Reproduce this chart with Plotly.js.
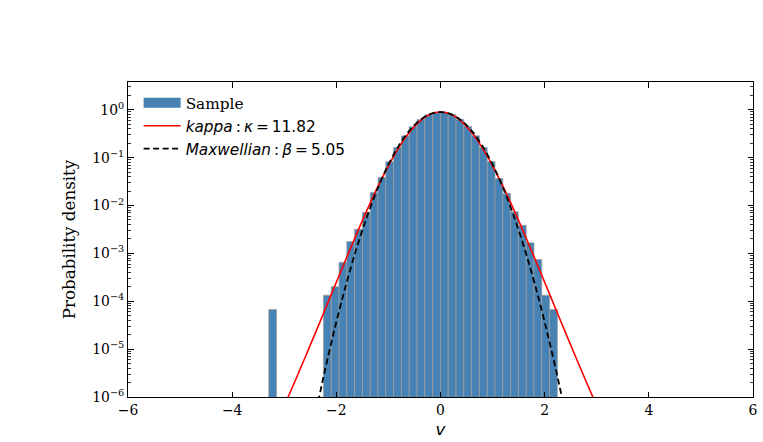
<!DOCTYPE html>
<html>
<head>
<meta charset="utf-8">
<script src="https://cdn.plot.ly/plotly-3.0.1.min.js"></script>
<style>html,body{margin:0;padding:0;background:#fff;}#chart{width:763px;height:442px;}</style>
</head>
<body>
<div id="chart"></div>
<script>
// Histogram of the sample (bin centres and probability density)
const binCenters = [-3.222,
  -2.173, -2.023, -1.873, -1.724, -1.574, -1.424, -1.274, -1.125, -0.975, -0.825,
  -0.675, -0.526, -0.376, -0.226, -0.076, 0.073, 0.223, 0.373, 0.522, 0.672,
  0.822, 0.972, 1.121, 1.271, 1.421, 1.571, 1.720, 1.870, 2.020, 2.170];
const sampleDensity = [6.7e-5,
  1.34e-4, 2.0e-4, 6.5e-4, 1.77e-3, 3.2e-3, 7.15e-3, 0.0188, 0.0386, 0.0825, 0.162,
  0.284, 0.444, 0.625, 0.785, 0.880, 0.882, 0.788, 0.628, 0.449, 0.287,
  0.164, 0.0835, 0.0368, 0.0179, 7.37e-3, 3.88e-3, 1.66e-3, 7.45e-4, 1.34e-4, 6.7e-5];
const binWidth = 0.1498;

// Fitted kappa curve
const kappaV = [-3.2, -3.0, -2.8, -2.6, -2.4, -2.2, -2.0, -1.8, -1.6, -1.4, -1.2, -1.0, -0.8, -0.6, -0.4, -0.2,
  0, 0.2, 0.4, 0.6, 0.8, 1.0, 1.2, 1.4, 1.6, 1.8, 2.0, 2.2, 2.4, 2.6, 2.8, 3.0, 3.2];
const kappaPdf = [2.10e-7, 6.50e-7, 2.06e-6, 6.70e-6, 2.213e-5, 7.41e-5, 2.489e-4, 8.31e-4, 2.712e-3, 8.51e-3, 0.02509, 0.06763, 0.1619, 0.3334, 0.5734, 0.8029,
  0.9, 0.8029, 0.5734, 0.3334, 0.1619, 0.06763, 0.02509, 8.51e-3, 2.712e-3, 8.31e-4, 2.489e-4, 7.41e-5, 2.213e-5, 6.70e-6, 2.06e-6, 6.50e-7, 2.10e-7];

// Fitted Maxwellian curve
const maxwV = [-2.6, -2.4, -2.2, -2.0, -1.8, -1.6, -1.4, -1.2, -1.0, -0.8, -0.6, -0.4, -0.2,
  0, 0.2, 0.4, 0.6, 0.8, 1.0, 1.2, 1.4, 1.6, 1.8, 2.0, 2.2, 2.4, 2.6];
const maxwPdf = [3.47e-8, 4.34e-7, 4.422e-6, 3.684e-5, 2.508e-4, 1.397e-3, 6.354e-3, 0.02363, 0.07177, 0.1781, 0.3612, 0.5985, 0.8103,
  0.8965, 0.8103, 0.5985, 0.3612, 0.1781, 0.07177, 0.02363, 6.354e-3, 1.397e-3, 2.508e-4, 3.684e-5, 4.422e-6, 4.34e-7, 3.47e-8];

// Tick labels
const xTicks = [-6, -4, -2, 0, 2, 4, 6];
const yTickVals = [1e-6, 1e-5, 1e-4, 1e-3, 1e-2, 1e-1, 1];
const yTickText = ['10<sup>\u22126</sup>', '10<sup>\u22125</sup>', '10<sup>\u22124</sup>', '10<sup>\u22123</sup>',
  '10<sup>\u22122</sup>', '10<sup>\u22121</sup>', '10<sup>0</sup>'];

const minorVals = [];
for (let e = -6; e <= 0; e++) for (let m = 2; m <= 9; m++) minorVals.push(m * Math.pow(10, e));

const serif = 'DejaVu Serif';
const sans = 'DejaVu Sans';
const ts = '\u2009';

const traces = [
  {
    type: 'bar', x: binCenters, y: sampleDensity, width: binWidth,
    marker: {color: '#4682b4', line: {color: '#a39e9a', width: 0.7}},
    showlegend: false, hoverinfo: 'skip'
  },
  {
    type: 'scatter', mode: 'lines', x: kappaV, y: kappaPdf,
    line: {color: '#ff0000', width: 1.6, shape: 'spline', smoothing: 1},
    name: '<i>kappa</i>' + ts + ':' + ts + '<i>\u03ba</i>' + ts + '=' + ts + '11.82', legendrank: 2, legendgroup: 'b'
  },
  {
    type: 'scatter', mode: 'lines', x: maxwV, y: maxwPdf,
    line: {color: '#000000', width: 1.8, dash: '6px,3.5px', shape: 'spline', smoothing: 1},
    name: '<i>Maxwellian</i>' + ts + ':' + ts + '<i>\u03b2</i>' + ts + '=' + ts + '5.05', legendrank: 3, legendgroup: 'c'
  },
  {
    type: 'scatter', mode: 'lines', x: [null], y: [null],
    line: {color: '#4682b4', width: 12},
    name: '<span style="font-family:\'DejaVu Serif\'">Sample</span>', legendrank: 1, legendgroup: 'a'
  }
];

const layout = {
  width: 763, height: 442,
  margin: {l: 128, r: 9.5, t: 82, b: 45.3, pad: 0},
  paper_bgcolor: '#ffffff', plot_bgcolor: '#ffffff',
  showlegend: true,
  bargap: 0,
  legend: {
    x: 0.017, y: 0.986, xanchor: 'left', yanchor: 'top',
    bgcolor: 'rgba(0,0,0,0)', borderwidth: 0,
    font: {family: sans, size: 15.3, color: '#000'},
    itemwidth: 37,
    tracegroupgap: 7.5, traceorder: 'normal'
  },
  xaxis: {
    range: [-6, 6], tickvals: xTicks,
    ticks: 'inside', ticklen: 5.5, tickwidth: 1, tickcolor: '#000',
    showline: true, linecolor: '#000', linewidth: 1, mirror: 'ticks',
    showgrid: false, zeroline: false,
    tickfont: {family: serif, size: 13.9, color: '#000'},
    title: {text: '<i>v</i>', font: {family: sans, size: 16.7, color: '#000'}, standoff: 6}
  },
  yaxis: {
    type: 'log', range: [-6, 0.58],
    tickmode: 'array', tickvals: yTickVals, ticktext: yTickText,
    ticks: 'inside', ticklen: 5.5, tickwidth: 1, tickcolor: '#000',
    showline: true, linecolor: '#000', linewidth: 1, mirror: 'ticks',
    showgrid: false, zeroline: false,
    tickfont: {family: serif, size: 13.9, color: '#000'},
    minor: {tickmode: 'array', tickvals: minorVals, ticks: 'inside', ticklen: 2.8, tickwidth: 0.8, tickcolor: '#000', showgrid: false},
    title: {text: 'Probability density', font: {family: serif, size: 16.7, color: '#000'}, standoff: 12}
  }
};

Plotly.newPlot('chart', traces, layout, {displayModeBar: false, staticPlot: true});
</script>
</body>
</html>
